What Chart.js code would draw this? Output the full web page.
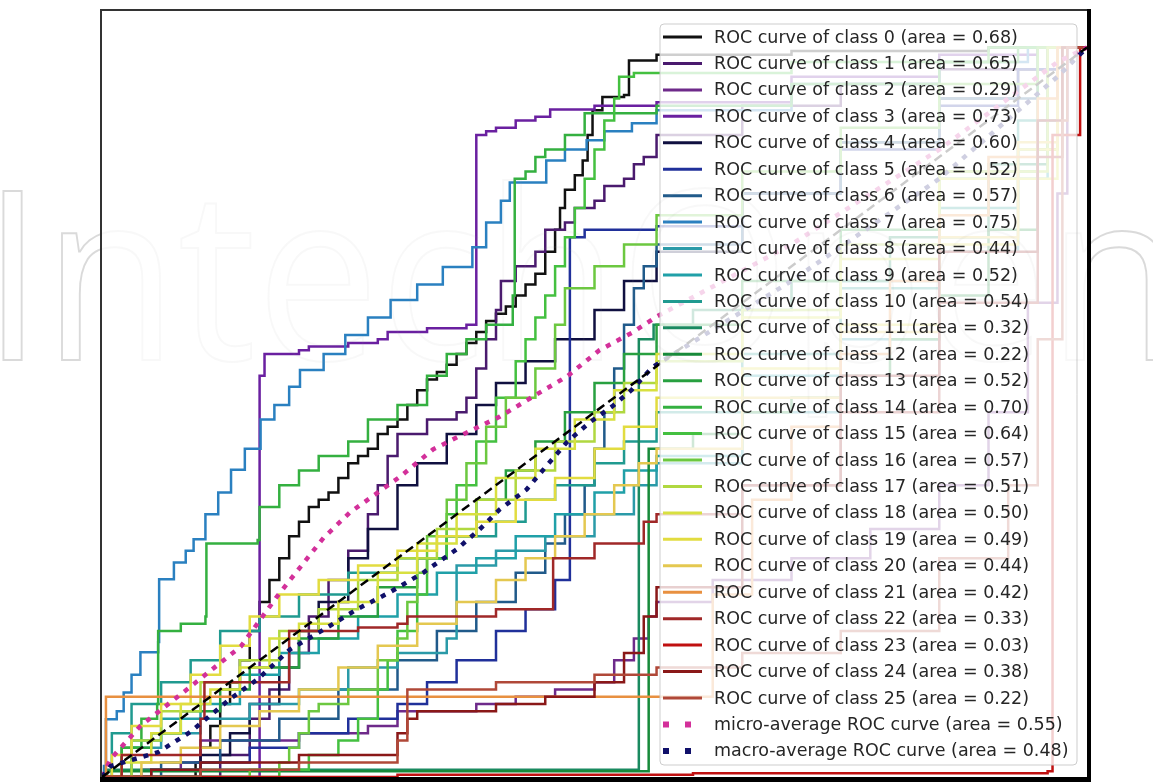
<!DOCTYPE html>
<html>
<head>
<meta charset="utf-8">
<script src="https://cdn.jsdelivr.net/npm/chart.js@4.4.1/dist/chart.umd.min.js"></script>
<style>
html,body{margin:0;padding:0;background:#fff;}
canvas{display:block;}
</style>
</head>
<body>
<canvas id="c" width="1153" height="782"></canvas>
<script>
// ---- data: ROC curves as [fpr, tpr] points ----
const c0 = [[0,0],[0.09,0.0],[0.095,0.02],[0.1,0.04],[0.11,0.07],[0.12,0.1],[0.13,0.13],[0.14,0.16],[0.15,0.2],[0.16,0.24],[0.17,0.27],[0.18,0.3],[0.19,0.33],[0.2,0.35],[0.21,0.37],[0.22,0.38],[0.23,0.39],[0.24,0.41],[0.25,0.43],[0.26,0.44],[0.27,0.45],[0.28,0.47],[0.29,0.48],[0.3,0.49],[0.31,0.51],[0.32,0.53],[0.33,0.545],[0.34,0.555],[0.35,0.565],[0.36,0.58],[0.37,0.595],[0.38,0.61],[0.39,0.625],[0.4,0.635],[0.41,0.645],[0.42,0.66],[0.43,0.675],[0.44,0.69],[0.45,0.72],[0.46,0.75],[0.465,0.78],[0.47,0.805],[0.48,0.825],[0.488,0.845],[0.493,0.88],[0.498,0.914],[0.508,0.932],[0.53,0.935],[0.535,0.982],[0.563,0.99],[0.7,0.995],[0.9,1],[1,1]];
const c1 = [[0,0],[0.1,0.0],[0.12,0.03],[0.15,0.08],[0.17,0.12],[0.19,0.17],[0.21,0.22],[0.23,0.27],[0.25,0.31],[0.27,0.36],[0.28,0.4],[0.29,0.44],[0.3,0.47],[0.33,0.49],[0.36,0.5],[0.37,0.52],[0.38,0.56],[0.39,0.6],[0.4,0.64],[0.405,0.68],[0.42,0.7],[0.44,0.72],[0.45,0.75],[0.47,0.76],[0.48,0.78],[0.5,0.79],[0.51,0.81],[0.53,0.82],[0.54,0.84],[0.55,0.85],[0.563,0.88],[0.65,0.92],[0.75,0.95],[0.85,0.97],[0.96,1],[1,1]];
const c2 = [[0,0],[0.04,0.01],[0.08,0.02],[0.1,0.05],[0.2,0.06],[0.27,0.07],[0.3,0.09],[0.38,0.1],[0.42,0.11],[0.46,0.12],[0.5,0.13],[0.52,0.16],[0.54,0.19],[0.555,0.22],[0.563,0.24],[0.62,0.27],[0.7,0.3],[0.78,0.34],[0.85,0.4],[0.9,0.5],[0.94,0.65],[0.97,0.8],[0.98,1],[1,1]];
const c3 = [[0,0],[0.16,0.0],[0.16,0.55],[0.165,0.58],[0.2,0.585],[0.21,0.59],[0.25,0.595],[0.28,0.6],[0.29,0.61],[0.33,0.615],[0.37,0.62],[0.38,0.63],[0.38,0.88],[0.39,0.885],[0.4,0.89],[0.42,0.9],[0.44,0.905],[0.455,0.915],[0.5,0.92],[0.563,0.925],[0.7,0.96],[0.85,0.99],[0.95,1],[1,1]];
const c4 = [[0,0],[0.08,0.0],[0.1,0.03],[0.13,0.06],[0.15,0.1],[0.18,0.15],[0.2,0.2],[0.22,0.24],[0.25,0.3],[0.27,0.34],[0.3,0.4],[0.32,0.43],[0.35,0.47],[0.38,0.51],[0.4,0.54],[0.43,0.57],[0.46,0.6],[0.5,0.64],[0.53,0.68],[0.563,0.72],[0.65,0.8],[0.75,0.87],[0.85,0.93],[0.93,0.97],[0.97,1],[1,1]];
const c5 = [[0,0],[0.05,0.01],[0.1,0.02],[0.15,0.04],[0.2,0.06],[0.25,0.08],[0.3,0.1],[0.33,0.13],[0.36,0.16],[0.4,0.2],[0.43,0.23],[0.46,0.27],[0.475,0.3],[0.475,0.74],[0.49,0.75],[0.563,0.755],[0.65,0.8],[0.75,0.86],[0.85,0.92],[0.93,0.97],[0.97,1],[1,1]];
const c6 = [[0,0],[0.06,0.02],[0.12,0.05],[0.18,0.08],[0.24,0.12],[0.3,0.16],[0.34,0.2],[0.38,0.24],[0.42,0.28],[0.45,0.32],[0.47,0.36],[0.49,0.4],[0.5,0.45],[0.51,0.5],[0.52,0.56],[0.53,0.62],[0.54,0.67],[0.55,0.7],[0.563,0.73],[0.65,0.8],[0.75,0.87],[0.85,0.93],[0.95,1],[1,1]];
const c7 = [[0,0],[0.002,0.015],[0.004,0.079],[0.015,0.09],[0.022,0.116],[0.03,0.14],[0.039,0.171],[0.057,0.185],[0.058,0.271],[0.073,0.294],[0.085,0.31],[0.093,0.326],[0.105,0.36],[0.118,0.39],[0.131,0.421],[0.145,0.45],[0.161,0.49],[0.175,0.51],[0.19,0.535],[0.201,0.558],[0.225,0.58],[0.247,0.606],[0.27,0.63],[0.293,0.654],[0.32,0.675],[0.346,0.699],[0.376,0.726],[0.39,0.76],[0.405,0.79],[0.414,0.815],[0.451,0.845],[0.47,0.86],[0.492,0.873],[0.51,0.885],[0.538,0.896],[0.563,0.914],[0.7,0.95],[0.85,0.98],[0.94,1],[1,1]];
const c8 = [[0,0],[0.03,0.04],[0.06,0.06],[0.1,0.08],[0.15,0.1],[0.2,0.12],[0.25,0.15],[0.3,0.17],[0.35,0.19],[0.36,0.29],[0.4,0.31],[0.45,0.33],[0.5,0.36],[0.54,0.4],[0.563,0.43],[0.65,0.5],[0.75,0.6],[0.85,0.72],[0.93,0.86],[0.97,1],[1,1]];
const c9 = [[0,0],[0.03,0.05],[0.06,0.08],[0.1,0.1],[0.14,0.14],[0.18,0.17],[0.22,0.19],[0.26,0.22],[0.3,0.25],[0.34,0.28],[0.38,0.3],[0.42,0.33],[0.46,0.36],[0.5,0.39],[0.53,0.42],[0.563,0.44],[0.65,0.55],[0.75,0.68],[0.85,0.82],[0.96,1],[1,1]];
const c10 = [[0,0],[0.01,0.06],[0.03,0.1],[0.06,0.13],[0.09,0.16],[0.12,0.2],[0.16,0.22],[0.2,0.25],[0.25,0.28],[0.3,0.3],[0.35,0.33],[0.4,0.35],[0.43,0.38],[0.46,0.4],[0.5,0.43],[0.53,0.46],[0.563,0.5],[0.65,0.58],[0.75,0.67],[0.85,0.78],[0.93,0.9],[0.97,1],[1,1]];
const c11 = [[0,0],[0.005,0.01],[0.54,0.01],[0.545,0.6],[0.56,0.62],[0.6,0.64],[0.7,0.68],[0.8,0.74],[0.9,0.84],[0.96,1],[1,1]];
const c12 = [[0,0],[0.005,0.008],[0.55,0.008],[0.555,0.45],[0.6,0.47],[0.65,0.5],[0.7,0.52],[0.75,0.55],[0.8,0.6],[0.85,0.66],[0.9,0.75],[0.95,0.86],[0.97,1],[1,1]];
const c13 = [[0,0],[0.02,0.04],[0.05,0.06],[0.08,0.09],[0.12,0.12],[0.15,0.15],[0.2,0.19],[0.24,0.22],[0.28,0.26],[0.32,0.3],[0.35,0.33],[0.38,0.38],[0.41,0.42],[0.44,0.46],[0.47,0.5],[0.5,0.54],[0.53,0.58],[0.563,0.62],[0.65,0.68],[0.75,0.75],[0.85,0.83],[0.95,1],[1,1]];
const c14 = [[0,0],[0.02,0.04],[0.04,0.08],[0.056,0.1],[0.057,0.2],[0.08,0.21],[0.105,0.22],[0.106,0.32],[0.158,0.325],[0.16,0.37],[0.18,0.4],[0.2,0.42],[0.22,0.44],[0.25,0.46],[0.27,0.49],[0.3,0.51],[0.33,0.55],[0.35,0.58],[0.37,0.6],[0.39,0.62],[0.417,0.66],[0.419,0.82],[0.43,0.83],[0.44,0.85],[0.45,0.86],[0.47,0.88],[0.49,0.91],[0.563,0.92],[0.7,0.95],[0.85,0.98],[0.93,1],[1,1]];
const c15 = [[0,0],[0.18,0.01],[0.21,0.03],[0.24,0.05],[0.26,0.08],[0.28,0.12],[0.29,0.16],[0.3,0.2],[0.32,0.25],[0.33,0.3],[0.35,0.36],[0.36,0.4],[0.38,0.46],[0.4,0.52],[0.42,0.57],[0.43,0.6],[0.44,0.63],[0.45,0.66],[0.46,0.7],[0.47,0.74],[0.48,0.78],[0.49,0.82],[0.5,0.86],[0.51,0.9],[0.52,0.93],[0.525,0.96],[0.54,0.965],[0.563,0.965],[0.7,0.98],[0.9,1],[1,1]];
const c16 = [[0,0],[0.1,0.0],[0.15,0.01],[0.18,0.02],[0.19,0.04],[0.2,0.06],[0.21,0.09],[0.22,0.1],[0.25,0.12],[0.28,0.16],[0.3,0.19],[0.31,0.24],[0.32,0.28],[0.33,0.33],[0.35,0.38],[0.37,0.43],[0.39,0.48],[0.41,0.52],[0.44,0.56],[0.46,0.62],[0.47,0.67],[0.5,0.7],[0.53,0.73],[0.563,0.77],[0.65,0.83],[0.75,0.89],[0.85,0.95],[0.95,1],[1,1]];
const c17 = [[0,0],[0.03,0.05],[0.06,0.09],[0.1,0.13],[0.14,0.16],[0.18,0.2],[0.22,0.23],[0.26,0.27],[0.3,0.3],[0.34,0.34],[0.38,0.38],[0.42,0.42],[0.46,0.46],[0.5,0.5],[0.53,0.54],[0.563,0.57],[0.65,0.64],[0.75,0.73],[0.85,0.83],[0.96,1],[1,1]];
const c18 = [[0,0],[0.02,0.02],[0.05,0.06],[0.08,0.1],[0.11,0.12],[0.14,0.15],[0.17,0.19],[0.2,0.21],[0.24,0.24],[0.28,0.28],[0.32,0.32],[0.36,0.36],[0.4,0.41],[0.44,0.45],[0.48,0.49],[0.52,0.53],[0.563,0.58],[0.65,0.63],[0.75,0.71],[0.85,0.82],[0.97,1],[1,1]];
const c19 = [[0,0],[0.01,0.03],[0.03,0.07],[0.06,0.1],[0.09,0.14],[0.12,0.18],[0.15,0.22],[0.18,0.25],[0.22,0.27],[0.26,0.29],[0.3,0.31],[0.34,0.33],[0.38,0.35],[0.42,0.38],[0.46,0.41],[0.5,0.45],[0.53,0.48],[0.563,0.52],[0.65,0.56],[0.75,0.62],[0.85,0.73],[0.93,0.86],[0.97,1],[1,1]];
const c20 = [[0,0],[0.04,0.02],[0.08,0.04],[0.12,0.07],[0.16,0.09],[0.2,0.12],[0.24,0.15],[0.28,0.18],[0.32,0.21],[0.36,0.24],[0.4,0.27],[0.43,0.3],[0.46,0.33],[0.49,0.36],[0.52,0.4],[0.545,0.43],[0.563,0.45],[0.65,0.52],[0.75,0.61],[0.85,0.74],[0.93,0.87],[0.97,1],[1,1]];
const c21 = [[0,0],[0.004,0.11],[0.6,0.11],[0.62,0.25],[0.66,0.38],[0.7,0.48],[0.75,0.58],[0.8,0.68],[0.85,0.77],[0.9,0.85],[0.95,0.93],[0.97,1],[1,1]];
const c22 = [[0,0],[0.02,0.03],[0.1,0.08],[0.104,0.13],[0.19,0.135],[0.19,0.2],[0.26,0.205],[0.3,0.21],[0.31,0.22],[0.39,0.22],[0.4,0.23],[0.45,0.23],[0.458,0.3],[0.5,0.32],[0.55,0.35],[0.563,0.36],[0.65,0.4],[0.75,0.5],[0.85,0.65],[0.95,0.85],[0.975,1],[1,1]];
const c23 = [[0,0],[0.3,0.003],[0.6,0.005],[0.96,0.008],[0.965,0.88],[0.993,0.9],[0.993,1.0],[1,1]];
const c24 = [[0,0],[0.05,0.01],[0.1,0.02],[0.2,0.03],[0.3,0.06],[0.31,0.08],[0.32,0.09],[0.4,0.1],[0.45,0.11],[0.5,0.13],[0.53,0.17],[0.55,0.22],[0.563,0.26],[0.65,0.4],[0.75,0.55],[0.85,0.72],[0.95,0.9],[0.975,1],[1,1]];
const c25 = [[0,0],[0.1,0.01],[0.2,0.02],[0.3,0.05],[0.31,0.12],[0.4,0.13],[0.5,0.14],[0.563,0.15],[0.65,0.17],[0.75,0.2],[0.85,0.3],[0.92,0.4],[0.95,0.6],[0.975,0.9],[0.98,1],[1,1]];
const microAvg = [[0,0],[0.009,0.025],[0.039,0.07],[0.09,0.124],[0.141,0.179],[0.178,0.248],[0.225,0.328],[0.252,0.363],[0.303,0.412],[0.336,0.449],[0.37,0.472],[0.404,0.494],[0.437,0.521],[0.472,0.549],[0.505,0.585],[0.538,0.609],[0.563,0.631],[0.7,0.73],[0.85,0.86],[0.97,0.98],[1,1]];
const macroAvg = [[0,0],[0.009,0.015],[0.057,0.034],[0.09,0.062],[0.13,0.107],[0.158,0.134],[0.191,0.175],[0.225,0.202],[0.259,0.23],[0.292,0.253],[0.326,0.28],[0.36,0.312],[0.383,0.339],[0.404,0.367],[0.431,0.394],[0.451,0.426],[0.472,0.459],[0.495,0.486],[0.518,0.508],[0.538,0.531],[0.559,0.562],[0.7,0.68],[0.85,0.82],[0.97,0.96],[1,1]];
const diagonal = [[0,0],[1,1]];

const classCurves = [c0,c1,c2,c3,c4,c5,c6,c7,c8,c9,c10,c11,c12,c13,c14,c15,c16,c17,c18,c19,c20,c21,c22,c23,c24,c25];
const classAreas = [0.68,0.65,0.29,0.73,0.60,0.52,0.57,0.75,0.44,0.52,0.54,0.32,0.22,0.52,0.70,0.64,0.57,0.51,0.50,0.49,0.44,0.42,0.33,0.03,0.38,0.22];
const microArea = 0.55;
const macroArea = 0.48;
const classColors = ['#111111','#4a1a6e','#6e2a8a','#6a20a0','#101040','#20309a','#205a8a','#2a80c0','#2a9aa8','#20a0a8','#209a90','#1a8a60','#178a3a','#28a040','#34b040','#44c040','#6cc840','#b0d840','#d8e040','#e2dc40','#e4c850','#e89040','#a02828','#c01010','#8a1818','#b04838'];
const microColor = '#d3309a';
const macroColor = '#10106a';

const toXY = arr => arr.map(p => ({x: p[0], y: p[1]}));
const datasets = [];
classCurves.forEach((cv, i) => {
  datasets.push({
    label: 'ROC curve of class ' + i + ' (area = ' + classAreas[i].toFixed(2) + ')',
    data: toXY(cv), borderColor: classColors[i], borderWidth: 2.5,
    stepped: true, pointRadius: 0, fill: false, order: 100 - i
  });
});
datasets.push({label: 'micro-average ROC curve (area = ' + microArea.toFixed(2) + ')', data: toXY(microAvg),
  borderColor: microColor, borderWidth: 4.5, borderDash: [5, 7], borderCapStyle: 'butt', pointRadius: 0, fill: false, order: 2, isDot: true});
datasets.push({label: 'macro-average ROC curve (area = ' + macroArea.toFixed(2) + ')', data: toXY(macroAvg),
  borderColor: macroColor, borderWidth: 4.5, borderDash: [5, 7], borderCapStyle: 'butt', pointRadius: 0, fill: false, order: 1, isDot: true});
datasets.push({label: '', data: toXY(diagonal), borderColor: '#000', borderWidth: 2.5, borderDash: [9, 5],
  pointRadius: 0, fill: false, order: 0, noLegend: true});

const overlay = {
  id: 'overlay',
  afterDatasetsDraw(chart) {
    const ctx = chart.ctx;
    const bx = 660, by = 24, bw = 417, bh = 741;
    ctx.save();
    ctx.beginPath();
    ctx.roundRect(bx, by, bw, bh, 4);
    ctx.fillStyle = 'rgba(255,255,255,0.8)';
    ctx.fill();
    ctx.strokeStyle = 'rgba(200,200,200,0.9)';
    ctx.lineWidth = 1;
    ctx.stroke();
    ctx.font = '17.5px "DejaVu Sans"';
    ctx.textBaseline = 'middle';
    ctx.textAlign = 'left';
    let row = 0;
    chart.data.datasets.forEach(ds => {
      if (ds.noLegend) return;
      const y = 37 + row * 26.44;
      ctx.beginPath();
      ctx.strokeStyle = ds.borderColor;
      if (ds.isDot) {
        ctx.lineWidth = 6; ctx.setLineDash([6, 16]); ctx.lineCap = 'butt';
        ctx.moveTo(663, y); ctx.lineTo(692, y);
      } else {
        ctx.lineWidth = 3; ctx.setLineDash([]);
        ctx.moveTo(663, y); ctx.lineTo(702, y);
      }
      ctx.stroke();
      ctx.setLineDash([]);
      ctx.fillStyle = '#262626';
      ctx.fillText(ds.label, 714, y + 1);
      row++;
    });
    ctx.restore();
  },
  afterDraw(chart) {
    const ctx = chart.ctx; const a = chart.chartArea;
    // watermark: faint inside the plot, light grey outside
    const drawMark = (style) => {
      ctx.font = '236px "Open Sans"';
      ctx.textBaseline = 'alphabetic';
      ctx.textAlign = 'left';
      ctx.strokeStyle = style;
      ctx.lineWidth = 2;
      ctx.strokeText('IntechOpen', -18, 360, 1200);
    };
    ctx.save();
    ctx.beginPath();
    ctx.rect(0, 0, chart.width, chart.height);
    ctx.rect(a.left, a.top, a.right - a.left, a.bottom - a.top);
    ctx.clip('evenodd');
    drawMark('rgba(150,150,150,0.35)');
    ctx.restore();
    ctx.save();
    ctx.beginPath();
    ctx.rect(a.left, a.top, a.right - a.left, a.bottom - a.top);
    ctx.clip();
    drawMark('rgba(150,150,150,0.07)');
    ctx.restore();
    // frame
    ctx.save();
    ctx.strokeStyle = '#333'; ctx.lineWidth = 2;
    ctx.beginPath(); ctx.moveTo(a.left - 1, a.top - 2); ctx.lineTo(a.left - 1, a.bottom + 4); ctx.stroke();
    ctx.beginPath(); ctx.moveTo(a.left - 2, a.top - 1); ctx.lineTo(a.right + 4, a.top - 1); ctx.stroke();
    ctx.strokeStyle = '#000'; ctx.lineWidth = 4;
    ctx.beginPath(); ctx.moveTo(a.right + 2, a.top - 2); ctx.lineTo(a.right + 2, a.bottom + 5); ctx.stroke();
    ctx.lineWidth = 5;
    ctx.beginPath(); ctx.moveTo(a.left - 2, a.bottom + 2.5); ctx.lineTo(a.right + 4, a.bottom + 2.5); ctx.stroke();
    ctx.restore();
  }
};

new Chart(document.getElementById('c'), {
  type: 'line',
  data: { datasets },
  options: {
    responsive: false, animation: false, devicePixelRatio: 1,
    layout: { padding: { left: 102, right: 66, top: 11, bottom: 5 } },
    scales: {
      x: { type: 'linear', min: 0, max: 1, display: false },
      y: { type: 'linear', min: 0, max: 1.05, display: false }
    },
    plugins: { legend: { display: false }, tooltip: { enabled: false } },
    elements: { line: { tension: 0 } }
  },
  plugins: [overlay]
});
</script>
</body>
</html>
